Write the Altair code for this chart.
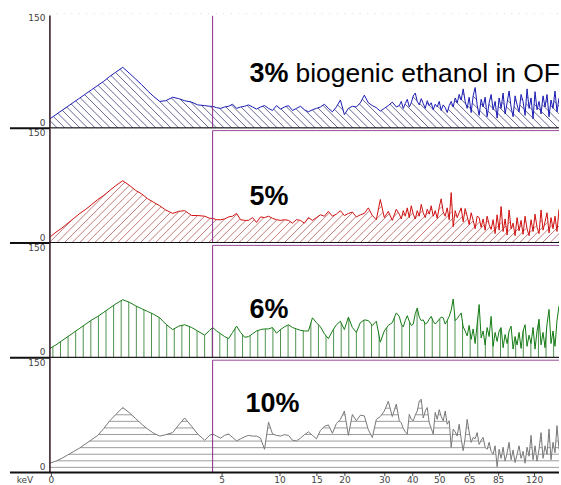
import altair as alt
import pandas as pd

# ---------------- data ----------------
# spectrum sample positions (channel axis, left edge = 0)
chan = ([0, 6, 12, 18, 24, 30, 36, 42, 48, 54, 60, 66, 73, 80, 86, 92, 98, 104,
         110, 116, 123, 129, 135, 142, 148, 155, 160]
        + list(range(163, 348, 4)) + list(range(350, 511, 2)))

cpm_3 = ([5, 11, 17, 23, 29, 35, 41, 47, 53, 59, 66, 72, 79, 70, 62, 54, 45, 37, 30, 31,
          36, 34, 31, 29, 25, 24, 23]
         + [23, 21, 20, 22, 23, 26, 20, 22, 23, 25,
            22, 19, 22, 24, 20, 17, 24, 19, 22, 24,
            17, 20, 23, 18, 15, 18, 20, 22, 26, 20,
            15, 22, 32, 11, 20, 23, 22, 28, 39, 28,
            24, 21, 16, 20, 24, 29, 22]
         + [24, 30, 20, 27, 33, 22, 28, 38, 42, 30,
            25, 34, 27, 20, 31, 24, 28, 18, 26, 22,
            30, 17, 25, 21, 14, 24, 30, 22, 35, 28,
            40, 32, 48, 30, 20, 36, 14, 38, 50, 25,
            10, 33, 22, 36, 8, 28, 40, 18, 30, 6,
            35, 20, 42, 12, 28, 45, 22, 8, 38, 25,
            15, 40, 30, 10, 48, 20, 35, 5, 44, 18,
            30, 12, 38, 22, 40, 8, 32, 20, 45, 15,
            35])

cpm_5 = ([0, 7, 13, 20, 27, 34, 40, 47, 54, 60, 67, 74, 81, 74, 67, 62, 55, 50, 45, 39,
          34, 37, 38, 31, 31, 30, 27]
         + [27, 25, 25, 26, 29, 30, 34, 25, 24, 24,
            28, 21, 29, 28, 30, 27, 25, 24, 25, 24,
            20, 25, 24, 20, 28, 24, 28, 32, 30, 37,
            30, 33, 38, 31, 34, 36, 29, 32, 34, 42,
            31, 25, 54, 28, 37, 24, 40]
         + [33, 26, 38, 30, 42, 28, 45, 33, 26, 38,
            30, 47, 35, 28, 40, 33, 45, 30, 38, 27,
            43, 55, 36, 30, 42, 25, 64, 15, 38, 28,
            35, 42, 22, 41, 30, 18, 35, 24, 12, 30,
            28, 14, 26, 10, 30, 18, 11, 25, 5, 32,
            10, 44, 8, 26, 3, 39, 12, 20, 2, 28,
            9, 24, 4, 30, 12, 2, 25, 8, 33, 14,
            5, 39, 10, 22, 35, 6, 28, 12, 30, 8,
            40])

cpm_6 = ([5, 10, 16, 22, 28, 34, 40, 46, 51, 57, 63, 69, 75, 71, 66, 62, 58, 54, 49, 40,
          32, 37, 39, 35, 30, 24, 31]
         + [35, 30, 26, 22, 19, 28, 37, 28, 21, 22,
            26, 30, 32, 33, 33, 35, 27, 32, 36, 39,
            35, 33, 31, 30, 30, 49, 42, 36, 26, 19,
            30, 39, 44, 32, 50, 35, 28, 42, 46, 45,
            38, 44, 14, 30, 38, 42, 56]
         + [51, 40, 36, 45, 52, 44, 38, 40, 55, 63,
            50, 45, 46, 40, 42, 47, 51, 44, 40, 43,
            47, 50, 49, 40, 45, 51, 60, 76, 45, 48,
            52, 56, 36, 30, 23, 38, 18, 33, 12, 40,
            68, 20, 30, 10, 35, 22, 51, 8, 28, 15,
            30, 35, 6, 25, 12, 30, 37, 4, 22, 10,
            28, 5, 30, 39, 8, 24, 12, 35, 4, 30,
            47, 10, 28, 6, 40, 61, 12, 30, 8, 45,
            66])

cpm_10 = ([5, 8, 12, 17, 22, 27, 33, 39, 45, 55, 66, 75, 85, 77, 69, 61, 54, 48, 44, 46,
           49, 60, 70, 58, 47, 38, 45]
          + [47, 44, 41, 45, 47, 42, 37, 40, 43, 45,
             44, 44, 41, 25, 64, 47, 45, 44, 46, 45,
             38, 37, 41, 46, 50, 45, 40, 52, 58, 60,
             48, 62, 68, 80, 45, 75, 66, 74, 73, 53,
             42, 68, 72, 80, 94, 72, 90]
          + [66, 63, 55, 50, 47, 75, 68, 66, 74, 80,
             94, 97, 70, 80, 85, 63, 55, 47, 78, 68,
             82, 72, 66, 80, 61, 66, 28, 54, 50, 44,
             61, 40, 23, 42, 68, 50, 35, 42, 40, 49,
             32, 38, 42, 28, 25, 35, 22, 18, 30, 0,
             25, 12, 28, 8, 20, 35, 10, 24, 6, 18,
             30, 12, 22, 5, 28, 15, 45, 10, 30, 8,
             25, 49, 12, 30, 18, 54, 10, 35, 20, 59,
             25])

pct_labels = ["3%", "5%", "6%", "10%"]
subtitle = "biogenic ethanol in OF"
kev_labels = ["0", "5", "10", "15", "20", "30", "40", "50", "65", "85", "120"]
kev_chan = [1, 172, 230, 267, 295, 335, 363, 390, 420, 449, 485]
window_start = 163
y_ticks = [0, 150]

# ---------------- layout constants ----------------
W, H = 510, 115
YMIN, YMAX = -8.5, 156.5
FONT_TXT = "Liberation Sans"
FONT_AX = "DejaVu Sans"

x_scale = alt.Scale(domain=[0, W], nice=False, zero=False)
y_scale = alt.Scale(domain=[YMIN, YMAX], nice=False, zero=False)

y_axis = alt.Axis(values=y_ticks, domain=False, ticks=False, tickSize=0, labelPadding=5,
                  labelFontSize=9, labelFont=FONT_AX, labelColor="#444", grid=False,
                  minExtent=50, maxExtent=50)

label_expr = "[" + ",".join("'%s'" % s for s in kev_labels) + "][indexof([" + \
    ",".join(str(c) for c in kev_chan) + "], datum.value)]"
x_axis_bottom = alt.Axis(values=kev_chan, labelExpr=label_expr, domain=False, ticks=True,
                         tickSize=3, tickColor="#444", labelPadding=0, labelFontSize=9,
                         labelFont=FONT_AX, labelColor="#444", grid=False,
                         labelFlush=False, labelOverlap=False, minExtent=12, maxExtent=12)


def hatch_diag(up):
    rows = []
    x0 = -float(H)
    while x0 < W + H:
        if up:
            rows.append(dict(hx=x0, hx2=x0 + H, hy=YMIN, hy2=YMAX))
        else:
            rows.append(dict(hx=x0, hx2=x0 + H, hy=YMAX, hy2=YMIN))
        x0 += 7.6
    return pd.DataFrame(rows)


def hatch_vert():
    rows = []
    x0 = 3.0
    while x0 <= W:
        rows.append(dict(hx=x0, hx2=x0, hy=YMIN, hy2=YMAX))
        x0 += 7.6
    return pd.DataFrame(rows)


def hatch_horiz():
    rows = []
    y0 = -1.0
    while y0 < YMAX:
        rows.append(dict(hx=0, hx2=W, hy=y0, hy2=y0))
        y0 += 9.45
    return pd.DataFrame(rows)


def panel(vals, line_color, hatch_df, hatch_color, idx, text_y, bottom=False):
    x_axis = x_axis_bottom if bottom else None
    df = pd.DataFrame({"ch": chan, "v": vals})
    df["top"] = YMAX

    def X(f):
        if x_axis is None:
            return alt.X(f, type="quantitative", scale=x_scale, axis=None, title=None)
        return alt.X(f, type="quantitative", scale=x_scale, axis=x_axis, title=None)

    def Y(f):
        return alt.Y(f, type="quantitative", scale=y_scale, axis=y_axis, title=None)

    hatch = alt.Chart(hatch_df).mark_rule(color=hatch_color, strokeWidth=0.85, clip=True).encode(
        x=X("hx"), x2="hx2", y=Y("hy"), y2="hy2")
    mask = alt.Chart(df).mark_area(color="white", fill="white", clip=True, opacity=1,
                                   fillOpacity=1).encode(
        x=X("ch"), y=Y("v"), y2="top")
    line = alt.Chart(df).mark_line(color=line_color, strokeWidth=1.0, clip=True).encode(
        x=X("ch"), y=Y("v"))
    one = pd.DataFrame({"a": [0]})
    purple_v = alt.Chart(one).mark_rule(color="#8a2a8a", strokeWidth=1).encode(
        x=alt.datum(window_start), y=alt.value(2.4), y2=alt.value(H))
    purple_h = alt.Chart(one).mark_rule(color="#9a4a9a", strokeWidth=1).encode(
        x=alt.datum(window_start), x2=alt.value(W), y=alt.value(2.4))
    left_line = alt.Chart(one).mark_rule(color="#3d1f2d", strokeWidth=1.6).encode(
        x=alt.value(0), y=alt.value(0 if idx > 0 else 2), y2=alt.value(H))
    base = alt.Chart(one).mark_rule(color="#111", strokeWidth=2).encode(
        x=alt.value(-40), x2=alt.value(W), y=alt.value(H))
    pct = alt.Chart(one).mark_text(align="left", baseline="alphabetic", font=FONT_TXT,
                                   fontSize=27, fontWeight="bold", color="black").encode(
        x=alt.datum(200 if idx < 3 else 196), y=alt.datum(text_y), text=alt.value(pct_labels[idx]))
    layers = [hatch, mask, line, purple_v]
    if idx > 0:
        layers.append(purple_h)
    layers += [left_line, base, pct]
    if idx == 0:
        layers.append(alt.Chart(one).mark_text(align="left", baseline="alphabetic", font=FONT_TXT,
                                               fontSize=26.5, color="black").encode(
            x=alt.datum(246), y=alt.datum(text_y), text=alt.value(subtitle)))
    if bottom:
        layers.append(alt.Chart(one).mark_text(align="center", baseline="top", font=FONT_AX,
                                               fontSize=9, color="#444").encode(
            x=alt.value(-25), y=alt.value(H + 3), text=alt.value("keV")))
    return alt.layer(*layers).properties(width=W, height=H)


p1 = panel(cpm_3, "#1a1ab4", hatch_diag(False), "#4b4b80", 0, 57.5)
p2 = panel(cpm_5, "#d01010", hatch_diag(True), "#b86262", 1, 46)
p3 = panel(cpm_6, "#137a13", hatch_vert(), "#2f802f", 2, 49)
p4 = panel(cpm_10, "#777777", hatch_horiz(), "#8a8a8a", 3, 79, bottom=True)

chart = alt.vconcat(p1, p2, p3, p4, spacing=0, bounds="flush").properties(
    padding={"left": 0, "top": 13, "right": 0, "bottom": 0}
).configure_view(stroke=None)

chart.save("out.html", embed_options={"renderer": "svg", "actions": False})
